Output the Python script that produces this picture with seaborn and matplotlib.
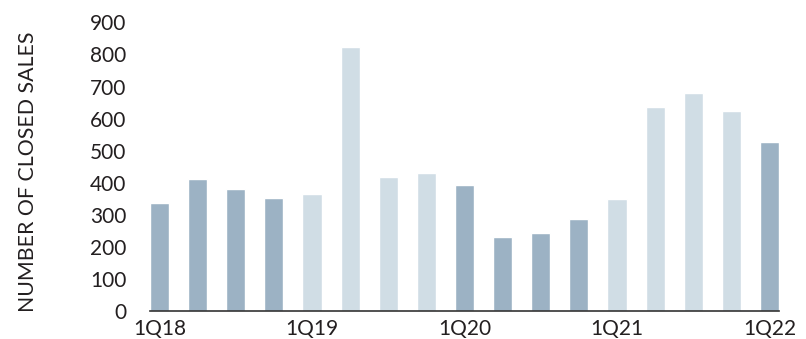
import matplotlib
matplotlib.use("Agg")
import matplotlib.pyplot as plt
import seaborn as sns
import pandas as pd

# Closed sales per quarter, 1Q18 through 1Q22
quarters = [
    "1Q18", "2Q18", "3Q18", "4Q18",
    "1Q19", "2Q19", "3Q19", "4Q19",
    "1Q20", "2Q20", "3Q20", "4Q20",
    "1Q21", "2Q21", "3Q21", "4Q21",
    "1Q22",
]
closed_sales = [
    337, 412, 381, 353,
    365, 823, 418, 431,
    393, 230, 243, 287,
    350, 635, 679, 625,
    528,
]
tick_labels = ["1Q18", "1Q19", "1Q20", "1Q21", "1Q22"]
y_ticks = [0, 100, 200, 300, 400, 500, 600, 700, 800, 900]

DARK = "#9cb2c4"
LIGHT = "#d0dde5"
TEXT = "#231f20"

# alternate shading by calendar year
bar_colors = [DARK if int(q[2:]) % 2 == 0 else LIGHT for q in quarters]

df = pd.DataFrame({"quarter": quarters, "sales": closed_sales})

sns.set_theme(style="white")
plt.rcParams["font.family"] = ["Lato", "DejaVu Sans"]

fig = plt.figure(figsize=(8.06, 3.39), dpi=100)
ax = fig.add_axes([150 / 806, 1 - 311 / 339, 629 / 806, (311 - 22.4) / 339])

sns.barplot(
    data=df, x="quarter", y="sales", hue="quarter",
    palette=bar_colors, order=quarters, hue_order=quarters,
    width=0.5, legend=False, saturation=1, ax=ax,
)

ax.set_xlim(-0.25, len(quarters) - 0.75)
ax.set_ylim(0, 900)
ax.set_yticks(y_ticks)
ax.set_yticklabels([str(v) for v in y_ticks])
ax.set_xticks([quarters.index(t) for t in tick_labels])
ax.set_xticklabels(tick_labels)
ax.tick_params(axis="both", length=0, labelsize=15, colors=TEXT)
ax.tick_params(axis="y", pad=17)
ax.tick_params(axis="x", pad=6)
ax.set_xlabel("")
ax.set_ylabel("")

for side in ("top", "right", "left"):
    ax.spines[side].set_visible(False)
ax.spines["bottom"].set_color("#333333")
ax.spines["bottom"].set_linewidth(1.2)

fig.text(28 / 806, 1 - 171.5 / 339, "NUMBER OF CLOSED SALES",
         rotation=90, ha="center", va="center", fontsize=15.3, color=TEXT)

fig.savefig("out.png", dpi=100, facecolor="white")
